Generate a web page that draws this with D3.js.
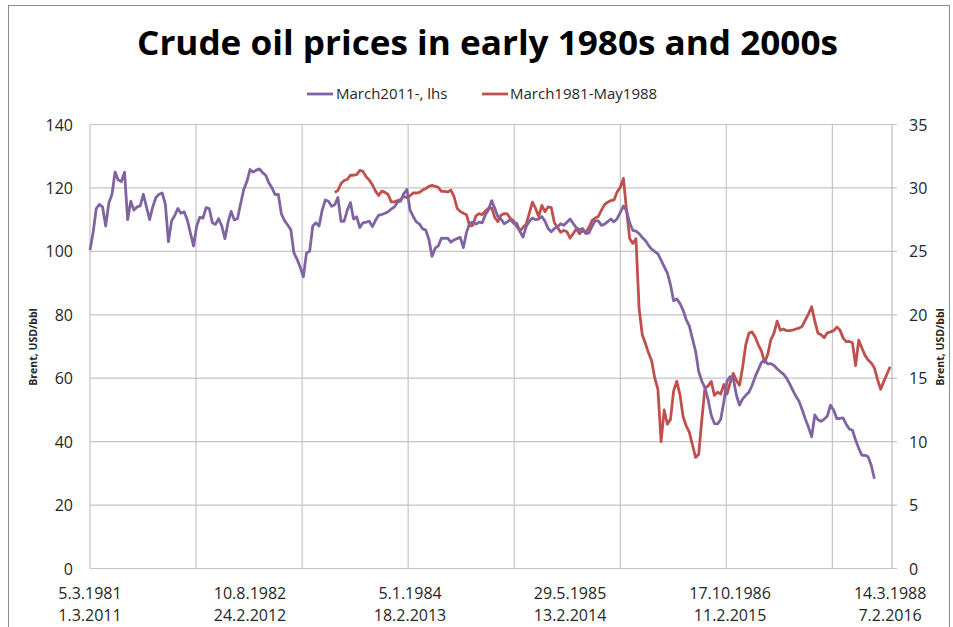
<!DOCTYPE html>
<html>
<head>
<meta charset="utf-8">
<script src="https://cdnjs.cloudflare.com/ajax/libs/d3/7.8.5/d3.min.js"></script>
<style>
    body { margin: 0; background: #fff; }
    svg { display: block; font-family: "Open Sans", sans-serif; }
</style>
</head>
<body>
<svg id="chart" width="953" height="627"></svg>
<script>
const TITLE = "Crude oil prices in early 1980s and 2000s";
const AXIS_TITLE = "Brent, USD/bbl";

const seriesNames = ["March2011-, lhs", "March1981-May1988"];
const seriesColors = ["#8064a2", "#c0504d"];

// category axis: trading day index, labels every 255 days, gridlines every 169
const categoryCount = 1278;
const labelEvery = 255;
const gridEvery = 169;
const labels1981 = ["5.3.1981", "10.8.1982", "5.1.1984", "29.5.1985", "17.10.1986", "14.3.1988"];
const labels2011 = ["1.3.2011", "24.2.2012", "18.2.2013", "13.2.2014", "11.2.2015", "7.2.2016"];

const leftTicks = [0, 20, 40, 60, 80, 100, 120, 140];
const rightTicks = [0, 5, 10, 15, 20, 25, 30, 35];

// Brent USD/bbl, one value every 5 trading days
const step = 5;
const start2011 = 0;
const brent2011 = [
    100.4, 106, 113.5, 114.8, 114, 108, 115.2, 118, 125, 122.5,
    122, 125, 110, 115.8, 113, 114, 114.3, 118, 114, 110,
    114, 117, 118, 118.4, 115, 103, 109.6, 111.3, 113.5, 112,
    112.5, 110, 105.8, 101.7, 108, 110.8, 110.5, 113.8, 113.5, 109,
    108.5, 110.3, 108, 104, 109.2, 112.6, 109.9, 110.3, 115, 119.5,
    122, 125.8, 125, 125.6, 126, 124.8, 124, 121.6, 120, 117.9,
    118, 111.8, 109.7, 108.3, 106.8, 99.5, 97.5, 95, 92, 99.5,
    100, 108, 109, 108, 113, 116.2, 115.8, 114.2, 114.7, 117,
    109.5, 109.5, 113, 115.4, 110.2, 110.9, 107.5, 109, 109.2, 109.5,
    107.8, 109.8, 111.4, 111.6, 112, 112.5, 113.3, 114, 115.5, 115.8,
    118.2, 119.5, 113, 111, 109.3, 108.6, 107.1, 106.7, 103.8, 98.4,
    101, 101.7, 104.2, 104.1, 104.2, 102.9, 103.6, 104, 104.4, 101.2,
    106, 108.9, 109.2, 108.6, 109.2, 109, 111.5, 113.1, 116, 113.6,
    111, 110.2, 108.7, 109.3, 110.1, 108.8, 108.9, 106.3, 104.5, 107.8,
    109.4, 110.5, 110, 110.2, 111, 109.5, 107.2, 106.2, 107.2, 107.7,
    108.7, 108.2, 109.2, 110.2, 108.8, 107.4, 106.8, 107.2, 105.6, 105.8,
    107.9, 109.6, 109.6, 108.2, 108.6, 109.4, 110.2, 109.3, 110.3, 112.3,
    114.3, 112.8, 109, 106.6, 106.4, 105.6, 104.4, 103.4, 101.9, 100.7,
    99.9, 99.2, 97.2, 95.2, 93.2, 89.5, 84.4, 85, 83.6, 81.5,
    78.5, 76.5, 72.5, 68.5, 62.1, 59, 57, 53.2, 48.3, 45.7,
    45.6, 47, 52.5, 59, 60.5, 60, 54.7, 51.5, 53.5, 54.6,
    55.6, 57.7, 60.5, 62.7, 65, 65.7, 64.5, 64.6, 64, 63,
    62.1, 61.3, 60, 58.2, 56.2, 54.3, 52.7, 50, 47.1, 44.5,
    41.5, 48.4, 46.9, 46.4, 47.1, 48.1, 51.5, 50, 47.3, 47.3,
    47.5, 45.5, 44, 43.6, 40.5, 37.9, 35.7, 35.7, 35.2, 32.5,
    28.3
];

// Brent USD/bbl (right axis), same spacing, starts later
const start1981 = 390;
const brent1981 = [
    29.65, 29.8, 30.35, 30.58, 30.68, 31, 31, 31.05, 31.38, 31.3,
    30.88, 30.63, 30.25, 29.75, 29.4, 29.75, 29.65, 29.48, 28.9, 28.9,
    29, 29.08, 29.33, 29.23, 29.38, 29.6, 29.6, 29.65, 29.83, 29.95,
    30.13, 30.2, 30.13, 30.05, 29.73, 29.73, 29.68, 29.83, 29.33, 28.4,
    28.15, 28, 27.88, 27, 27.05, 27.8, 27.98, 27.9, 28.18, 28.4,
    28.43, 27.68, 27.35, 27.85, 27.98, 27.95, 27.58, 27.4, 26.95, 26.63,
    26.88, 27.13, 28, 28.88, 28.38, 27.75, 28.63, 28.13, 28.5, 28.45,
    27.25, 26.88, 26.5, 26.65, 26.55, 26.05, 26.4, 26.78, 26.38, 26.63,
    26.5, 26.88, 27.43, 27.63, 27.75, 28.25, 28.68, 28.88, 29, 29.05,
    29.68, 30.05, 30.75, 28.25, 26, 25.63, 26, 20.5, 18.43, 17.75,
    17, 16.38, 15, 14.13, 10, 12.5, 11.38, 11.75, 14, 14.75,
    13.75, 12, 11.25, 10.75, 9.75, 8.75, 9, 11.75, 14.25, 14.38,
    14.75, 13.65, 13.9, 13.75, 14.5, 13.75, 14.63, 15.38, 14.83, 14.45,
    15.88, 17.65, 18.55, 18.65, 18.25, 17.63, 17.13, 16.25, 16.88, 18.05,
    18.55, 19.5, 18.78, 18.88, 18.75, 18.75, 18.8, 18.88, 18.95, 19.1,
    19.6, 20.08, 20.63, 19.5, 18.55, 18.43, 18.2, 18.58, 18.65, 18.75,
    19.03, 18.8, 18.18, 17.88, 17.9, 17.8, 16, 18, 17.38, 16.8,
    16.43, 16.2, 15.8, 14.88, 14.13, 14.75, 15.33, 15.9
];

const PLOT = {left: 90, right: 892, top: 124.5, bottom: 568.5};

let svg = d3.select("#chart");

let x = d3.scaleLinear().domain([0, categoryCount]).range([PLOT.left, PLOT.right]);
let yLeft = d3.scaleLinear().domain([0, 140]).range([PLOT.bottom, PLOT.top]);
let yRight = d3.scaleLinear().domain([0, 35]).range([PLOT.bottom, PLOT.top]);

function toPoints(values, startIndex) {
    return values.map((v, i) => ({idx: startIndex + i * step, value: v}));
}

function drawFrame() {
    svg.append("rect").attr("x", 8.5).attr("y", 5.5).attr("width", 941).attr("height", 650)
        .attr("fill", "#fff").attr("stroke", "#8c8c8c").attr("stroke-width", 1);
}

function drawTitle() {
    svg.append("text").text(TITLE)
        .attr("x", 137).attr("y", 55)
        .attr("textLength", 701).attr("lengthAdjust", "spacingAndGlyphs")
        .style("font-size", "34px").style("font-weight", "bold").style("fill", "#000");
}

function drawLegend() {
    let items = [{x: 307, textX: 336}, {x: 482, textX: 510}];
    let legend = svg.append("g").attr("class", "legend");
    items.forEach((item, i) => {
        legend.append("line").attr("x1", item.x).attr("x2", item.x + 26).attr("y1", 94).attr("y2", 94)
            .attr("stroke", seriesColors[i]).attr("stroke-width", 2.8);
        legend.append("text").text(seriesNames[i]).attr("x", item.textX).attr("y", 99)
            .style("font-size", "15px").style("fill", "#262626");
    });
}

function drawGrid() {
    let grid = svg.append("g").attr("class", "grid");
    grid.selectAll(".hgrid").data(leftTicks).join("line").attr("class", "hgrid")
        .attr("x1", PLOT.left).attr("x2", PLOT.right + 5)
        .attr("y1", d => yLeft(d)).attr("y2", d => yLeft(d))
        .attr("stroke", "#c4c4c4").attr("stroke-width", 1.2);
    grid.selectAll(".vgrid").data(d3.range(0, categoryCount, gridEvery)).join("line").attr("class", "vgrid")
        .attr("x1", d => x(d)).attr("x2", d => x(d))
        .attr("y1", PLOT.top).attr("y2", PLOT.bottom)
        .attr("stroke", "#c4c4c4").attr("stroke-width", 1.2);
    grid.append("line").attr("x1", PLOT.right).attr("x2", PLOT.right)
        .attr("y1", PLOT.top).attr("y2", PLOT.bottom)
        .attr("stroke", "#bdbdbd").attr("stroke-width", 1.2);
}

function drawAxes() {
    let left = svg.append("g").attr("transform", `translate(${PLOT.left - 17},0)`)
        .call(d3.axisLeft(yLeft).tickValues(leftTicks).tickSize(0).tickPadding(0));
    let right = svg.append("g").attr("transform", `translate(${PLOT.right + 17},0)`)
        .call(d3.axisRight(yRight).tickValues(rightTicks).tickSize(0).tickPadding(0));
    [left, right].forEach(g => {
        g.select(".domain").remove();
        g.selectAll("text").style("font-size", "16px").style("fill", "#262626")
            .style("font-family", "Open Sans").attr("dy", "0.35em");
    });

    let labelIdx = d3.range(0, labels1981.length).map(i => i * labelEvery);
    let bottom = svg.append("g").attr("class", "xlabels");
    bottom.selectAll(".row1").data(labelIdx).join("text").attr("class", "row1")
        .attr("x", d => x(d)).attr("y", 599).attr("text-anchor", "middle")
        .text((d, i) => labels1981[i]);
    bottom.selectAll(".row2").data(labelIdx).join("text").attr("class", "row2")
        .attr("x", d => x(d)).attr("y", 621).attr("text-anchor", "middle")
        .text((d, i) => labels2011[i]);
    bottom.selectAll("text").style("font-size", "16px").style("fill", "#262626");

    svg.append("text").text(AXIS_TITLE)
        .attr("transform", "translate(37,347) rotate(-90)").attr("text-anchor", "middle")
        .style("font-size", "10.5px").style("font-weight", "bold").style("fill", "#262626");
    svg.append("text").text(AXIS_TITLE)
        .attr("transform", "translate(944,347) rotate(-90)").attr("text-anchor", "middle")
        .style("font-size", "10.5px").style("font-weight", "bold").style("fill", "#262626");
}

function drawSeries() {
    let lineLeft = d3.line().x(d => x(d.idx)).y(d => yLeft(d.value));
    let lineRight = d3.line().x(d => x(d.idx)).y(d => yRight(d.value));

    svg.append("path").datum(toPoints(brent1981, start1981)).attr("d", lineRight)
        .attr("fill", "none").attr("stroke", seriesColors[1]).attr("stroke-width", 2.8)
        .attr("stroke-linejoin", "round");
    svg.append("path").datum(toPoints(brent2011, start2011)).attr("d", lineLeft)
        .attr("fill", "none").attr("stroke", seriesColors[0]).attr("stroke-width", 2.8)
        .attr("stroke-linejoin", "round");
}

drawFrame();
drawTitle();
drawLegend();
drawGrid();
drawAxes();
drawSeries();
</script>
</body>
</html>
